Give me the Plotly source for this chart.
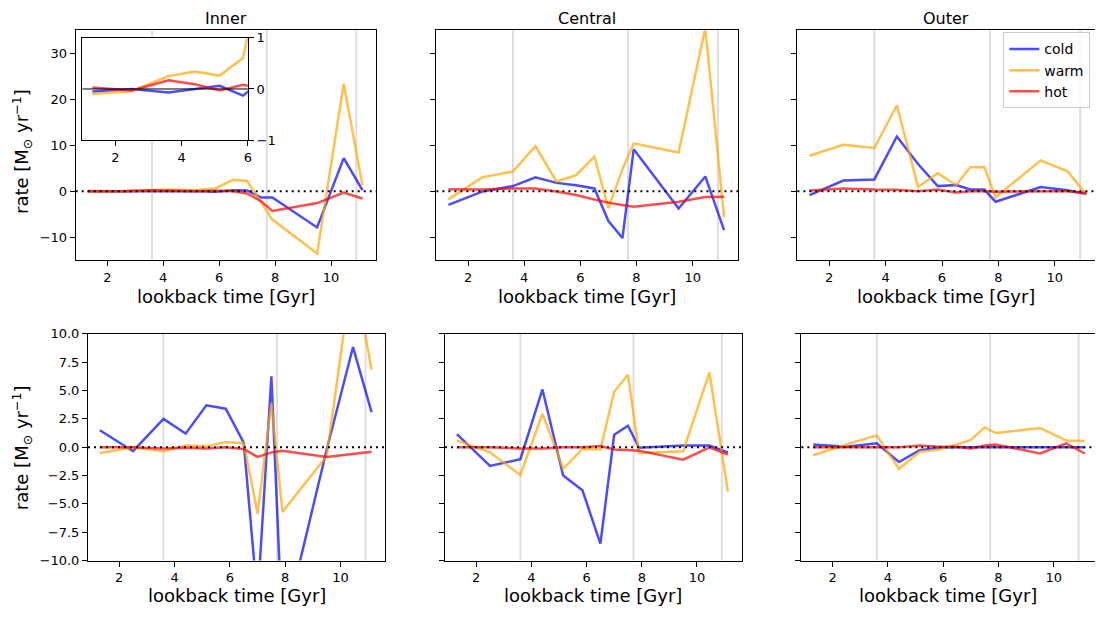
import plotly.graph_objects as go

# ---------------- data ----------------
t = [1.3, 2.5, 3.6, 4.4, 5.15, 5.85, 6.5, 7.0, 7.5, 7.9, 9.5, 10.45, 11.12]
vlines = [3.6, 7.7, 10.9]
regions = ["Inner", "Central", "Outer"]
phases = ["cold", "warm", "hot"]

# top row
top_inner_cold = [-0.05, 0.0, -0.07, 0.0, 0.06, -0.13, 0.2, 0.15, -1.4, -1.4, -7.9, 7.2, 0.2]
top_inner_warm = [-0.1, -0.04, 0.25, 0.34, 0.26, 0.6, 2.5, 2.2, -2.5, -6.2, -13.6, 23.4, 1.3]
top_inner_hot = [0.03, -0.03, 0.17, 0.09, -0.03, 0.08, 0.0, -0.5, -2.2, -4.3, -2.6, -0.3, -1.6]

top_central_cold = [-3.0, -0.1, 1.1, 3.0, 1.8, 1.3, 0.6, -6.5, -10.2, 9.1, -3.8, 3.2, -8.5]
top_central_warm = [-1.8, 3.0, 4.3, 9.8, 2.1, 3.5, 7.5, -3.7, 4.8, 10.4, 8.4, 35.5, -5.7]
top_central_hot = [0.4, 0.35, 0.6, 0.6, -0.1, -0.85, -1.8, -2.5, -3.0, -3.4, -2.3, -1.3, -1.2]

top_outer_cold = [-0.85, 2.3, 2.55, 11.9, 5.9, 1.1, 1.35, 0.35, 0.35, -2.3, 0.9, 0.2, -0.6]
top_outer_warm = [7.7, 10.1, 9.4, 18.7, 0.9, 3.9, 1.3, 5.2, 5.25, -1.35, 6.7, 4.3, -0.7]
top_outer_hot = [0.15, 0.6, 0.35, 0.3, 0.0, 0.35, -0.3, 0.0, 0.05, -0.15, 0.0, 0.0, -0.4]

# bottom row
bot_inner_cold = [1.5, -0.35, 2.5, 1.2, 3.7, 3.4, 0.4, -13.5, 6.26, -16.5, -0.2, 8.84, 3.1]
bot_inner_warm = [-0.5, 0.0, -0.35, 0.15, 0.1, 0.45, 0.37, -5.85, 3.87, -5.7, -0.77, 16.0, 6.83]
bot_inner_hot = [0.0, 0.0, -0.1, -0.05, -0.1, 0.0, -0.15, -0.85, -0.45, -0.3, -0.85, -0.6, -0.4]

bot_central_cold = [1.15, -1.65, -1.05, 5.1, -2.5, -3.8, -8.5, 1.1, 1.9, -0.05, 0.15, 0.15, -0.45]
bot_central_warm = [0.6, -0.45, -2.45, 2.95, -1.9, -0.15, -0.2, 4.9, 6.4, -0.5, -0.35, 6.6, -3.9]
bot_central_hot = [0.0, 0.0, -0.1, -0.1, 0.0, 0.0, 0.1, -0.2, -0.25, -0.3, -1.1, 0.0, -0.65]

bot_outer_cold = [0.25, 0.05, 0.35, -1.3, -0.25, -0.05, 0.0, 0.0, 0.0, 0.0, 0.0, 0.0, 0.0]
bot_outer_warm = [-0.7, 0.25, 1.05, -1.9, -0.4, -0.2, 0.25, 0.65, 1.75, 1.25, 1.7, 0.6, 0.55]
bot_outer_hot = [0.0, 0.0, 0.0, 0.0, 0.15, 0.05, 0.05, -0.1, 0.15, 0.25, -0.55, 0.35, -0.55]

x_ticks = [2, 4, 6, 8, 10]
top_y_ticks = [-10, 0, 10, 20, 30]
bot_y_ticks = [-10, -7.5, -5, -2.5, 0, 2.5, 5, 7.5, 10]
inset_x_ticks = [2, 4, 6]
inset_y_ticks = [-1, 0, 1]

# ---------------- styling / layout ----------------
W, H = 1099, 621
colors = {"cold": "rgba(0,0,255,0.7)", "warm": "rgba(255,165,0,0.7)", "hot": "rgba(255,0,0,0.7)"}
FONT = "DejaVu Sans"


def fx(p):
    return p / W


def fy(p):
    return 1 - p / H


panels = [
    # (axis suffix, data, x pixel domain, y pixel domain, xrange, yrange, yticks, show y labels)
    ("", (top_inner_cold, top_inner_warm, top_inner_hot), (76, 377.7), (24, 259.3), [0.872, 11.616], [-15, 35], top_y_ticks, True),
    ("2", (top_central_cold, top_central_warm, top_central_hot), (438, 740.7), (24, 259.3), [0.872, 11.616], [-15, 35], top_y_ticks, False),
    ("3", (top_outer_cold, top_outer_warm, top_outer_hot), (800.3, 1099), (24, 259.3), [0.872, 11.425], [-15, 35], top_y_ticks, False),
    ("4", (bot_inner_cold, bot_inner_warm, bot_inner_hot), (88.3, 386.7), (335, 567.3), [0.872, 11.616], [-10, 10], bot_y_ticks, True),
    ("5", (bot_central_cold, bot_central_warm, bot_central_hot), (446.7, 744.3), (335, 567.3), [0.872, 11.616], [-10, 10], bot_y_ticks, False),
    ("6", (bot_outer_cold, bot_outer_warm, bot_outer_hot), (804.3, 1099), (335, 567.3), [0.872, 11.49], [-10, 10], bot_y_ticks, False),
]

fig = go.Figure()
layout = dict(
    width=W, height=H, margin=dict(l=0, r=0, t=0, b=0),
    paper_bgcolor="white", plot_bgcolor="white",
    font=dict(family=FONT, size=13, color="black"),
    showlegend=True,
)

axis_common = dict(
    showline=True, linecolor="black", linewidth=1,
    ticks="outside", ticklen=5, tickwidth=1, tickcolor="black",
    showgrid=False, zeroline=False,
    tickfont=dict(family=FONT, size=13, color="black"),
)

shapes = []
annotations = []

INSET_LEFT, INSET_RIGHT, INSET_TOP, INSET_BOTTOM = 82.7, 248.8, 31.3, 136.7

for i, (suf, data, xd, yd, xr, yr, yt, showy) in enumerate(panels):
    xa = "x" + suf
    ya = "y" + suf
    is_right_edge = suf in ("3", "6")
    layout["xaxis" + suf] = dict(
        axis_common, domain=[fx(xd[0]), fx(xd[1])], range=xr, anchor=ya,
        tickvals=x_ticks, mirror=True,
    )
    layout["yaxis" + suf] = dict(
        axis_common, domain=[fy(yd[1]), fy(yd[0])], range=yr, anchor=xa,
        tickvals=yt, showticklabels=showy, mirror=not is_right_edge,
        tickformat=".1f" if yr[1] == 10 else "d",
    )
    # grey vertical lines
    for v in vlines:
        if suf == "" and v == 3.6:
            # split around the inset (inset has an opaque background)
            y_in_bot = (189.3 - INSET_BOTTOM) / 4.7
            y_in_top = (189.3 - INSET_TOP) / 4.7
            for y0, y1 in ((yr[0], y_in_bot), (y_in_top, yr[1])):
                shapes.append(dict(type="line", xref=xa, yref=ya, x0=v, x1=v, y0=y0, y1=y1,
                                   line=dict(color="#dedede", width=2), layer="below"))
        else:
            shapes.append(dict(type="line", xref=xa, yref=ya + " domain", x0=v, x1=v, y0=0, y1=1,
                               line=dict(color="#dedede", width=2), layer="below"))
    for name, ys in zip(phases, data):
        fig.add_trace(go.Scatter(
            x=t, y=ys, mode="lines", name=name, xaxis=xa, yaxis=ya,
            line=dict(color=colors[name], width=2.5),
            showlegend=(suf == "3"), hoverinfo="skip",
        ))
    # dotted zero line
    shapes.append(dict(type="line", xref=xa + " domain", yref=ya, x0=0, x1=1, y0=0, y1=0,
                       line=dict(color="black", width=2, dash="2px,4px"), layer="above"))
    # x axis title
    xc = (xd[0] + min(xd[1], xd[0] + 301.7)) / 2
    ylab = 296.7 if yd[0] < 100 else 603.5
    annotations.append(dict(text="lookback time [Gyr]", xref="paper", yref="paper",
                            x=fx(xc), y=fy(ylab), xanchor="center", yanchor="middle",
                            showarrow=False, font=dict(family=FONT, size=18, color="black")))
    if i < 3:
        annotations.append(dict(text=regions[i], xref="paper", yref="paper",
                                x=fx(xc), y=fy(11.5), xanchor="center", yanchor="middle",
                                showarrow=False, font=dict(family=FONT, size=16, color="black")))
    if showy:
        yc = (yd[0] + yd[1]) / 2 + (6 if yd[0] < 100 else 0)
        annotations.append(dict(text="rate [M<sub>⊙</sub> yr<sup>−1</sup>]", xref="paper", yref="paper",
                                x=fx(22), y=fy(yc), xanchor="center", yanchor="middle",
                                textangle=-90, showarrow=False,
                                font=dict(family=FONT, size=18, color="black")))

# inset
layout["xaxis7"] = dict(axis_common, domain=[fx(INSET_LEFT), fx(INSET_RIGHT)], range=[1.0, 6.0],
                        anchor="y7", tickvals=inset_x_ticks, mirror=True)
layout["yaxis7"] = dict(axis_common, domain=[fy(INSET_BOTTOM), fy(INSET_TOP)], range=[-1, 1],
                        anchor="x7", side="right", tickvals=inset_y_ticks, mirror=True,
                        tickformat="d")
for name, ys in zip(phases, (top_inner_cold, top_inner_warm, top_inner_hot)):
    fig.add_trace(go.Scatter(
        x=t, y=ys, mode="lines", name=name, xaxis="x7", yaxis="y7",
        line=dict(color=colors[name], width=2.5), showlegend=False, hoverinfo="skip",
    ))
shapes.append(dict(type="line", xref="x7 domain", yref="y7", x0=0, x1=1, y0=0, y1=0,
                   line=dict(color="black", width=1), layer="above"))

layout["shapes"] = shapes
layout["annotations"] = annotations
layout["legend"] = dict(
    x=fx(1007), y=fy(26), xanchor="left", yanchor="top",
    bgcolor="rgba(255,255,255,0.8)", bordercolor="#cccccc", borderwidth=1,
    font=dict(family=FONT, size=14, color="black"),
)
fig.update_layout(**layout)
fig.write_html("out.html")
